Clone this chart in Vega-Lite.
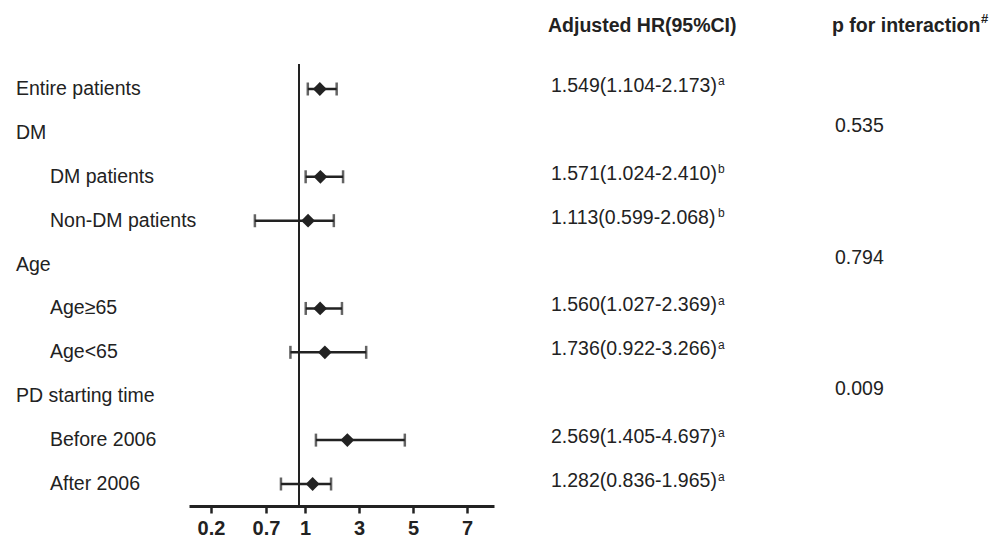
{
  "$schema": "https://vega.github.io/schema/vega-lite/v6.json",
  "width": 999,
  "height": 442,
  "autosize": {"type": "none"},
  "padding": {"top": 64, "bottom": 32, "left": 0, "right": 0},
  "background": "white",
  "config": {
    "view": {"stroke": null},
    "text": {"font": "Liberation Sans", "color": "#222", "fontSize": 19.5},
    "axisX": {
      "domainColor": "#222", "domainWidth": 3, "tickColor": "#222", "tickWidth": 2.5, "tickSize": 7,
      "labelFont": "Liberation Sans", "labelFontSize": 20, "labelFontWeight": "bold", "labelColor": "#222",
      "labelPadding": 5, "grid": false
    }
  },
  "datasets": {
    "rows": [
      {"label": "Entire patients", "level": 0, "hr": 1.549, "lo": 1.104, "hi": 2.173, "ci": "1.549(1.104-2.173)", "sup": "a"},
      {"label": "DM", "level": 0, "p": "0.535"},
      {"label": "DM patients", "level": 1, "hr": 1.571, "lo": 1.024, "hi": 2.410, "ci": "1.571(1.024-2.410)", "sup": "b"},
      {"label": "Non-DM patients", "level": 1, "hr": 1.113, "lo": 0.599, "hi": 2.068, "ci": "1.113(0.599-2.068)", "sup": "b"},
      {"label": "Age", "level": 0, "p": "0.794"},
      {"label": "Age≥65", "level": 1, "hr": 1.560, "lo": 1.027, "hi": 2.369, "ci": "1.560(1.027-2.369)", "sup": "a"},
      {"label": "Age<65", "level": 1, "hr": 1.736, "lo": 0.922, "hi": 3.266, "ci": "1.736(0.922-3.266)", "sup": "a"},
      {"label": "PD starting time", "level": 0, "p": "0.009"},
      {"label": "Before 2006", "level": 1, "hr": 2.569, "lo": 1.405, "hi": 4.697, "ci": "2.569(1.405-4.697)", "sup": "a"},
      {"label": "After 2006", "level": 1, "hr": 1.282, "lo": 0.836, "hi": 1.965, "ci": "1.282(0.836-1.965)", "sup": "a"}
    ],
    "headers": [
      {"label": "header", "col": "ci", "h": "Adjusted HR(95%CI)"},
      {"label": "header", "col": "p", "h": "p for interaction", "sup": "#"}
    ]
  },
  "data": {"name": "rows"},
  "layer": [
    {
      "layer": [
        {
          "data": {"values": [{}]},
          "mark": {"type": "rule", "strokeWidth": 2, "color": "#222"},
          "encoding": {
            "x": {"datum": 1, "type": "quantitative",
              "scale": {"type": "linear", "domain": [0, 1, 1.000001, 8], "range": [189, 299, 305, 494], "nice": false, "zero": false},
              "axis": {"values": [0.2, 0.7, 1.000001, 3, 5, 7], "format": ".1~f", "title": null}}
          }
        },
        {
          "transform": [{"filter": "isValid(datum.hr)"}],
          "mark": {"type": "rule", "strokeWidth": 2.5, "color": "#222"},
          "encoding": {
            "x": {"field": "lo", "type": "quantitative",
              "scale": {"type": "linear", "domain": [0, 1, 1.000001, 8], "range": [189, 299, 305, 494], "nice": false, "zero": false},
              "axis": {"values": [0.2, 0.7, 1.000001, 3, 5, 7], "format": ".1~f", "title": null}},
            "x2": {"field": "hi"},
            "y": {"field": "label", "type": "nominal", "scale": {"type": "point", "domain": ["header", "Entire patients", "DM", "DM patients", "Non-DM patients", "Age", "Age≥65", "Age<65", "PD starting time", "Before 2006", "After 2006"], "range": [-18.89, 420], "padding": 0}, "axis": null}
          }
        },
        {
          "transform": [{"filter": "isValid(datum.hr)"}],
          "mark": {"type": "tick", "size": 13, "thickness": 2.5, "color": "#222", "orient": "vertical"},
          "encoding": {
            "x": {"field": "lo", "type": "quantitative",
              "scale": {"type": "linear", "domain": [0, 1, 1.000001, 8], "range": [189, 299, 305, 494], "nice": false, "zero": false},
              "axis": {"values": [0.2, 0.7, 1.000001, 3, 5, 7], "format": ".1~f", "title": null}},
            "y": {"field": "label", "type": "nominal", "scale": {"type": "point", "domain": ["header", "Entire patients", "DM", "DM patients", "Non-DM patients", "Age", "Age≥65", "Age<65", "PD starting time", "Before 2006", "After 2006"], "range": [-18.89, 420], "padding": 0}, "axis": null}
          }
        },
        {
          "transform": [{"filter": "isValid(datum.hr)"}],
          "mark": {"type": "tick", "size": 13, "thickness": 2.5, "color": "#222", "orient": "vertical"},
          "encoding": {
            "x": {"field": "hi", "type": "quantitative",
              "scale": {"type": "linear", "domain": [0, 1, 1.000001, 8], "range": [189, 299, 305, 494], "nice": false, "zero": false},
              "axis": {"values": [0.2, 0.7, 1.000001, 3, 5, 7], "format": ".1~f", "title": null}},
            "y": {"field": "label", "type": "nominal", "scale": {"type": "point", "domain": ["header", "Entire patients", "DM", "DM patients", "Non-DM patients", "Age", "Age≥65", "Age<65", "PD starting time", "Before 2006", "After 2006"], "range": [-18.89, 420], "padding": 0}, "axis": null}
          }
        },
        {
          "transform": [{"filter": "isValid(datum.hr)"}],
          "mark": {"type": "point", "shape": "diamond", "filled": true, "size": 190, "color": "#222", "opacity": 1},
          "encoding": {
            "x": {"field": "hr", "type": "quantitative",
              "scale": {"type": "linear", "domain": [0, 1, 1.000001, 8], "range": [189, 299, 305, 494], "nice": false, "zero": false},
              "axis": {"values": [0.2, 0.7, 1.000001, 3, 5, 7], "format": ".1~f", "title": null}},
            "y": {"field": "label", "type": "nominal", "scale": {"type": "point", "domain": ["header", "Entire patients", "DM", "DM patients", "Non-DM patients", "Age", "Age≥65", "Age<65", "PD starting time", "Before 2006", "After 2006"], "range": [-18.89, 420], "padding": 0}, "axis": null}
          }
        }
      ]
    },
    {
      "mark": {"type": "text", "align": "left", "baseline": "middle"},
      "encoding": {
        "x": {"field": "level", "type": "quantitative", "scale": {"domain": [0, 1], "range": [16, 50], "zero": false, "nice": false}, "axis": null},
        "y": {"field": "label", "type": "nominal", "scale": {"type": "point", "domain": ["header", "Entire patients", "DM", "DM patients", "Non-DM patients", "Age", "Age≥65", "Age<65", "PD starting time", "Before 2006", "After 2006"], "range": [-18.89, 420], "padding": 0}, "axis": null},
        "text": {"field": "label"}
      }
    },
    {
      "transform": [{"filter": "isValid(datum.ci)"}],
      "mark": {"type": "text", "align": "left", "baseline": "middle", "dy": -3},
      "encoding": {
        "x": {"datum": "ci", "type": "nominal", "scale": {"type": "point", "domain": ["ci", "p"], "range": [551, 835], "padding": 0}, "axis": null},
        "y": {"field": "label", "type": "nominal", "scale": {"type": "point", "domain": ["header", "Entire patients", "DM", "DM patients", "Non-DM patients", "Age", "Age≥65", "Age<65", "PD starting time", "Before 2006", "After 2006"], "range": [-18.89, 420], "padding": 0}, "axis": null},
        "text": {"field": "ci"}
      }
    },
    {
      "transform": [{"filter": "isValid(datum.sup)"}],
      "mark": {"type": "text", "align": "left", "baseline": "alphabetic", "fontSize": 12, "dx": 167, "dy": -3.5},
      "encoding": {
        "x": {"datum": "ci", "type": "nominal", "scale": {"type": "point", "domain": ["ci", "p"], "range": [551, 835], "padding": 0}, "axis": null},
        "y": {"field": "label", "type": "nominal", "scale": {"type": "point", "domain": ["header", "Entire patients", "DM", "DM patients", "Non-DM patients", "Age", "Age≥65", "Age<65", "PD starting time", "Before 2006", "After 2006"], "range": [-18.89, 420], "padding": 0}, "axis": null},
        "text": {"field": "sup"}
      }
    },
    {
      "transform": [{"filter": "isValid(datum.p)"}],
      "mark": {"type": "text", "align": "left", "baseline": "middle", "dy": -7},
      "encoding": {
        "x": {"datum": "p", "type": "nominal", "scale": {"type": "point", "domain": ["ci", "p"], "range": [551, 835], "padding": 0}, "axis": null},
        "y": {"field": "label", "type": "nominal", "scale": {"type": "point", "domain": ["header", "Entire patients", "DM", "DM patients", "Non-DM patients", "Age", "Age≥65", "Age<65", "PD starting time", "Before 2006", "After 2006"], "range": [-18.89, 420], "padding": 0}, "axis": null},
        "text": {"field": "p"}
      }
    },
    {
      "data": {"name": "headers"},
      "mark": {"type": "text", "align": "left", "baseline": "middle", "fontWeight": "bold", "dx": -3, "dy": -19},
      "encoding": {
        "x": {"field": "col", "type": "nominal", "scale": {"type": "point", "domain": ["ci", "p"], "range": [551, 835], "padding": 0}, "axis": null},
        "y": {"field": "label", "type": "nominal", "scale": {"type": "point", "domain": ["header", "Entire patients", "DM", "DM patients", "Non-DM patients", "Age", "Age≥65", "Age<65", "PD starting time", "Before 2006", "After 2006"], "range": [-18.89, 420], "padding": 0}, "axis": null},
        "text": {"field": "h"}
      }
    },
    {
      "data": {"name": "headers"},
      "transform": [{"filter": "isValid(datum.sup)"}],
      "mark": {"type": "text", "align": "left", "baseline": "alphabetic", "fontWeight": "bold", "fontSize": 13, "dx": 146, "dy": -22},
      "encoding": {
        "x": {"field": "col", "type": "nominal", "scale": {"type": "point", "domain": ["ci", "p"], "range": [551, 835], "padding": 0}, "axis": null},
        "y": {"field": "label", "type": "nominal", "scale": {"type": "point", "domain": ["header", "Entire patients", "DM", "DM patients", "Non-DM patients", "Age", "Age≥65", "Age<65", "PD starting time", "Before 2006", "After 2006"], "range": [-18.89, 420], "padding": 0}, "axis": null},
        "text": {"field": "sup"}
      }
    }
  ],
  "resolve": {"scale": {"x": "independent"}, "axis": {"x": "independent"}}
}
